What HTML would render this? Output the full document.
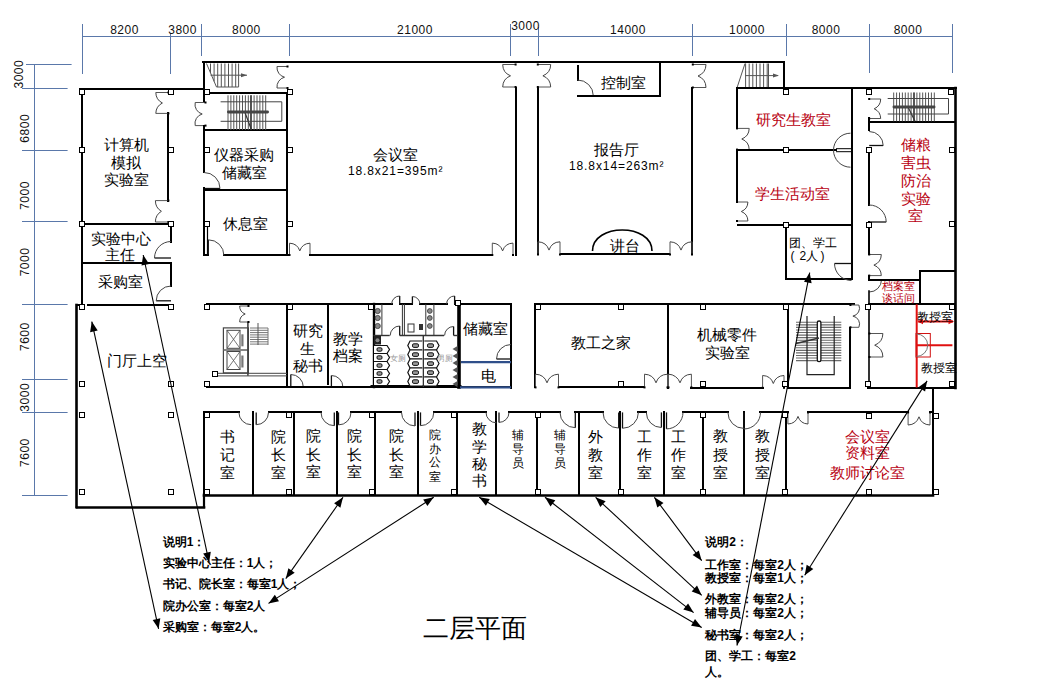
<!DOCTYPE html>
<html><head><meta charset="utf-8"><title>二层平面</title>
<style>
html,body{margin:0;padding:0;background:#fff;}
body{width:1053px;height:694px;overflow:hidden;font-family:"Liberation Sans", sans-serif;}
svg{display:block;}
</style></head>
<body>
<svg width="1053" height="694" viewBox="0 0 1053 694">
<rect width="1053" height="694" fill="#fff"/>
<line x1="82.5" y1="36.5" x2="952.5" y2="36.5" stroke="#5a78aa" stroke-width="1"/>
<line x1="82.5" y1="24" x2="82.5" y2="74" stroke="#5a78aa" stroke-width="1"/>
<line x1="170.5" y1="34" x2="170.5" y2="74" stroke="#5a78aa" stroke-width="1"/>
<line x1="201.5" y1="24" x2="201.5" y2="56" stroke="#5a78aa" stroke-width="1"/>
<line x1="289.5" y1="24" x2="289.5" y2="56" stroke="#5a78aa" stroke-width="1"/>
<line x1="510.5" y1="24" x2="510.5" y2="56" stroke="#5a78aa" stroke-width="1"/>
<line x1="538.5" y1="27" x2="538.5" y2="56" stroke="#5a78aa" stroke-width="1"/>
<line x1="692.5" y1="24" x2="692.5" y2="56" stroke="#5a78aa" stroke-width="1"/>
<line x1="786.5" y1="24" x2="786.5" y2="56" stroke="#5a78aa" stroke-width="1"/>
<line x1="869.5" y1="24" x2="869.5" y2="73" stroke="#5a78aa" stroke-width="1"/>
<line x1="952.5" y1="24" x2="952.5" y2="73" stroke="#5a78aa" stroke-width="1"/>
<text x="124.5" y="29.6" font-size="12" fill="#111" text-anchor="middle" dominant-baseline="central" font-weight="normal" font-family='"Liberation Sans", sans-serif' letter-spacing="0.5">8200</text>
<text x="182.6" y="29.6" font-size="12" fill="#111" text-anchor="middle" dominant-baseline="central" font-weight="normal" font-family='"Liberation Sans", sans-serif' letter-spacing="0.5">3800</text>
<text x="246.4" y="29.6" font-size="12" fill="#111" text-anchor="middle" dominant-baseline="central" font-weight="normal" font-family='"Liberation Sans", sans-serif' letter-spacing="0.5">8000</text>
<text x="415" y="29.6" font-size="12" fill="#111" text-anchor="middle" dominant-baseline="central" font-weight="normal" font-family='"Liberation Sans", sans-serif' letter-spacing="0.5">21000</text>
<text x="525.5" y="25.6" font-size="12" fill="#111" text-anchor="middle" dominant-baseline="central" font-weight="normal" font-family='"Liberation Sans", sans-serif' letter-spacing="0.5">3000</text>
<text x="628" y="29.6" font-size="12" fill="#111" text-anchor="middle" dominant-baseline="central" font-weight="normal" font-family='"Liberation Sans", sans-serif' letter-spacing="0.5">14000</text>
<text x="747" y="29.6" font-size="12" fill="#111" text-anchor="middle" dominant-baseline="central" font-weight="normal" font-family='"Liberation Sans", sans-serif' letter-spacing="0.5">10000</text>
<text x="826" y="29.6" font-size="12" fill="#111" text-anchor="middle" dominant-baseline="central" font-weight="normal" font-family='"Liberation Sans", sans-serif' letter-spacing="0.5">8000</text>
<text x="908" y="29.6" font-size="12" fill="#111" text-anchor="middle" dominant-baseline="central" font-weight="normal" font-family='"Liberation Sans", sans-serif' letter-spacing="0.5">8000</text>
<line x1="34.5" y1="64.5" x2="34.5" y2="495" stroke="#5a78aa" stroke-width="1"/>
<line x1="26" y1="64.5" x2="71.6" y2="64.5" stroke="#5a78aa" stroke-width="1"/>
<line x1="22" y1="88.5" x2="67.6" y2="88.5" stroke="#5a78aa" stroke-width="1"/>
<line x1="22" y1="150.5" x2="67.6" y2="150.5" stroke="#5a78aa" stroke-width="1"/>
<line x1="22" y1="221.5" x2="67.6" y2="221.5" stroke="#5a78aa" stroke-width="1"/>
<line x1="22" y1="304.5" x2="67.6" y2="304.5" stroke="#5a78aa" stroke-width="1"/>
<line x1="22" y1="379.5" x2="67.6" y2="379.5" stroke="#5a78aa" stroke-width="1"/>
<line x1="22" y1="412.5" x2="67.6" y2="412.5" stroke="#5a78aa" stroke-width="1"/>
<line x1="22" y1="495.5" x2="67.6" y2="495.5" stroke="#5a78aa" stroke-width="1"/>
<text x="0" y="0" font-size="12" fill="#111" text-anchor="middle" dominant-baseline="central" letter-spacing="0.5" font-family='"Liberation Sans", sans-serif' transform="translate(19.4,74.2) rotate(-90)">3000</text>
<text x="0" y="0" font-size="12" fill="#111" text-anchor="middle" dominant-baseline="central" letter-spacing="0.5" font-family='"Liberation Sans", sans-serif' transform="translate(25,128.3) rotate(-90)">6800</text>
<text x="0" y="0" font-size="12" fill="#111" text-anchor="middle" dominant-baseline="central" letter-spacing="0.5" font-family='"Liberation Sans", sans-serif' transform="translate(25,195.5) rotate(-90)">7000</text>
<text x="0" y="0" font-size="12" fill="#111" text-anchor="middle" dominant-baseline="central" letter-spacing="0.5" font-family='"Liberation Sans", sans-serif' transform="translate(25,262) rotate(-90)">7000</text>
<text x="0" y="0" font-size="12" fill="#111" text-anchor="middle" dominant-baseline="central" letter-spacing="0.5" font-family='"Liberation Sans", sans-serif' transform="translate(24.8,336.7) rotate(-90)">7600</text>
<text x="0" y="0" font-size="12" fill="#111" text-anchor="middle" dominant-baseline="central" letter-spacing="0.5" font-family='"Liberation Sans", sans-serif' transform="translate(24.8,397.3) rotate(-90)">3000</text>
<text x="0" y="0" font-size="12" fill="#111" text-anchor="middle" dominant-baseline="central" letter-spacing="0.5" font-family='"Liberation Sans", sans-serif' transform="translate(24.8,452.6) rotate(-90)">7600</text>
<line x1="80" y1="89" x2="204" y2="89" stroke="#000" stroke-width="2" stroke-linecap="square"/>
<line x1="82" y1="89" x2="82" y2="305" stroke="#000" stroke-width="2" stroke-linecap="square"/>
<line x1="168" y1="113" x2="168" y2="201" stroke="#000" stroke-width="2" stroke-linecap="square"/>
<line x1="168.4" y1="92.5" x2="155.8" y2="92.5" stroke="#555" stroke-width="1"/>
<path d="M155.8,92.5 A12,12 0 0 0 162.4,103" fill="none" stroke="#444" stroke-width="1"/>
<rect x="167.4" y="91.5" width="2" height="2" fill="#000"/>
<line x1="168.4" y1="113.4" x2="155.8" y2="113.4" stroke="#555" stroke-width="1"/>
<path d="M155.8,113.4 A12,12 0 0 1 162.4,103" fill="none" stroke="#444" stroke-width="1"/>
<rect x="167.4" y="112.4" width="2" height="2" fill="#000"/>
<line x1="168.4" y1="200.6" x2="155.4" y2="200.6" stroke="#555" stroke-width="1"/>
<path d="M155.4,200.6 A12.3,12.3 0 0 0 161.4,211.3" fill="none" stroke="#444" stroke-width="1"/>
<rect x="167.4" y="199.6" width="2" height="2" fill="#000"/>
<line x1="168.4" y1="222" x2="155.4" y2="222" stroke="#555" stroke-width="1"/>
<path d="M155.4,222 A12.3,12.3 0 0 1 161.4,211.3" fill="none" stroke="#444" stroke-width="1"/>
<rect x="167.4" y="221" width="2" height="2" fill="#000"/>
<line x1="82" y1="224" x2="171" y2="224" stroke="#000" stroke-width="2" stroke-linecap="square"/>
<line x1="171" y1="224" x2="171" y2="242" stroke="#000" stroke-width="2" stroke-linecap="square"/>
<line x1="171" y1="258" x2="154.5" y2="258" stroke="#111" stroke-width="1.3"/>
<path d="M154.5,258 A16.5,16.5 0 0 1 171,241.5" fill="none" stroke="#444" stroke-width="1"/>
<line x1="82" y1="263" x2="171" y2="263" stroke="#000" stroke-width="2" stroke-linecap="square"/>
<line x1="171" y1="263" x2="171" y2="286" stroke="#000" stroke-width="2" stroke-linecap="square"/>
<line x1="171" y1="300.8" x2="156.2" y2="300.8" stroke="#111" stroke-width="1.3"/>
<path d="M156.2,300.8 A14.8,14.8 0 0 1 171,286" fill="none" stroke="#444" stroke-width="1"/>
<line x1="88" y1="305" x2="173" y2="305" stroke="#000" stroke-width="2" stroke-linecap="square"/>
<line x1="76.5" y1="305" x2="76.5" y2="507" stroke="#000" stroke-width="2.6" stroke-linecap="square"/>
<line x1="77" y1="305" x2="82" y2="305" stroke="#000" stroke-width="2" stroke-linecap="square"/>
<line x1="77" y1="507.5" x2="204" y2="507.5" stroke="#000" stroke-width="2.6" stroke-linecap="square"/>
<line x1="204" y1="494" x2="204" y2="507" stroke="#000" stroke-width="2.2" stroke-linecap="square"/>
<line x1="203" y1="62" x2="784" y2="62" stroke="#000" stroke-width="2" stroke-linecap="square"/>
<line x1="204" y1="62" x2="204" y2="102" stroke="#000" stroke-width="2" stroke-linecap="square"/>
<line x1="205.5" y1="102.5" x2="195.2" y2="102.5" stroke="#555" stroke-width="1"/>
<path d="M195.2,102.5 A9.8,9.8 0 0 0 202.2,114" fill="none" stroke="#444" stroke-width="1"/>
<rect x="204.5" y="101.5" width="2" height="2" fill="#000"/>
<line x1="205.5" y1="125.6" x2="195.2" y2="125.6" stroke="#555" stroke-width="1"/>
<path d="M195.2,125.6 A9.8,9.8 0 0 1 202.2,114" fill="none" stroke="#444" stroke-width="1"/>
<rect x="204.5" y="124.6" width="2" height="2" fill="#000"/>
<line x1="204" y1="126" x2="204" y2="172" stroke="#000" stroke-width="2" stroke-linecap="square"/>
<line x1="204" y1="188.5" x2="220" y2="188.5" stroke="#111" stroke-width="1.3"/>
<path d="M220,188.5 A16,16 0 0 0 204,172.5" fill="none" stroke="#444" stroke-width="1"/>
<line x1="204" y1="188" x2="204" y2="255" stroke="#000" stroke-width="2" stroke-linecap="square"/>
<line x1="207.5" y1="224" x2="207.5" y2="255" stroke="#000" stroke-width="1.2" stroke-linecap="square"/>
<line x1="204" y1="93" x2="290" y2="93" stroke="#000" stroke-width="2" stroke-linecap="square"/>
<line x1="204" y1="130" x2="287" y2="130" stroke="#000" stroke-width="2" stroke-linecap="square"/>
<line x1="287" y1="93" x2="287" y2="255" stroke="#000" stroke-width="2" stroke-linecap="square"/>
<line x1="287.5" y1="66.5" x2="277" y2="66.5" stroke="#555" stroke-width="1"/>
<path d="M277,66.5 A10,10 0 0 0 284.5,77.2" fill="none" stroke="#444" stroke-width="1"/>
<rect x="286.5" y="65.5" width="2" height="2" fill="#000"/>
<line x1="287.5" y1="88" x2="277" y2="88" stroke="#555" stroke-width="1"/>
<path d="M277,88 A10,10 0 0 1 284.5,77.2" fill="none" stroke="#444" stroke-width="1"/>
<rect x="286.5" y="87" width="2" height="2" fill="#000"/>
<line x1="204" y1="190" x2="287" y2="190" stroke="#000" stroke-width="2" stroke-linecap="square"/>
<line x1="224" y1="255" x2="288" y2="255" stroke="#000" stroke-width="2" stroke-linecap="square"/>
<line x1="208.3" y1="255.4" x2="208.3" y2="239.8" stroke="#111" stroke-width="1.3"/>
<path d="M208.3,239.8 A15.6,15.6 0 0 1 223.9,255.4" fill="none" stroke="#444" stroke-width="1"/>
<line x1="204" y1="255" x2="208" y2="255" stroke="#000" stroke-width="2" stroke-linecap="square"/>
<polyline points="206.5,63.5 216.5,87 238.6,87 238.6,63.5" fill="none" stroke="#555" stroke-width="1"/>
<line x1="210.5" y1="63.5" x2="210.5" y2="72.9" stroke="#555" stroke-width="1"/>
<line x1="214.1" y1="63.5" x2="214.1" y2="81.4" stroke="#555" stroke-width="1"/>
<line x1="217.7" y1="63.5" x2="217.7" y2="87" stroke="#555" stroke-width="1"/>
<line x1="221.3" y1="63.5" x2="221.3" y2="87" stroke="#555" stroke-width="1"/>
<line x1="224.9" y1="63.5" x2="224.9" y2="87" stroke="#555" stroke-width="1"/>
<line x1="228.5" y1="63.5" x2="228.5" y2="87" stroke="#555" stroke-width="1"/>
<line x1="232.1" y1="63.5" x2="232.1" y2="87" stroke="#555" stroke-width="1"/>
<line x1="235.7" y1="63.5" x2="235.7" y2="87" stroke="#555" stroke-width="1"/>
<line x1="210.5" y1="75.2" x2="247" y2="75.2" stroke="#555" stroke-width="1"/>
<polygon points="247,75.2 241,73.2 241,77.2" fill="#555"/>
<line x1="228" y1="95.3" x2="228" y2="130" stroke="#555" stroke-width="1"/>
<line x1="230.9" y1="95.3" x2="230.9" y2="130" stroke="#555" stroke-width="1"/>
<line x1="233.8" y1="95.3" x2="233.8" y2="130" stroke="#555" stroke-width="1"/>
<line x1="236.7" y1="95.3" x2="236.7" y2="130" stroke="#555" stroke-width="1"/>
<line x1="239.6" y1="95.3" x2="239.6" y2="130" stroke="#555" stroke-width="1"/>
<line x1="242.5" y1="95.3" x2="242.5" y2="130" stroke="#555" stroke-width="1"/>
<line x1="245.4" y1="95.3" x2="245.4" y2="130" stroke="#555" stroke-width="1"/>
<line x1="248.3" y1="95.3" x2="248.3" y2="130" stroke="#555" stroke-width="1"/>
<line x1="251.2" y1="95.3" x2="251.2" y2="130" stroke="#555" stroke-width="1"/>
<line x1="254.1" y1="95.3" x2="254.1" y2="130" stroke="#555" stroke-width="1"/>
<line x1="257" y1="95.3" x2="257" y2="130" stroke="#555" stroke-width="1"/>
<line x1="259.9" y1="95.3" x2="259.9" y2="130" stroke="#555" stroke-width="1"/>
<line x1="262.8" y1="95.3" x2="262.8" y2="130" stroke="#555" stroke-width="1"/>
<line x1="265.7" y1="95.3" x2="265.7" y2="130" stroke="#555" stroke-width="1"/>
<line x1="250.9" y1="95.3" x2="250.9" y2="130" stroke="#333" stroke-width="1.4"/>
<line x1="245" y1="112.5" x2="251.5" y2="130" stroke="#333" stroke-width="1.2"/>
<polyline points="220.6,101.8 281.8,101.8 281.8,121.3 220.6,121.3" fill="none" stroke="#444" stroke-width="1"/>
<rect x="227" y="110.6" width="42" height="2.8" rx="1.4" fill="#444"/>
<line x1="310" y1="255" x2="492" y2="255" stroke="#000" stroke-width="2" stroke-linecap="square"/>
<line x1="289.5" y1="255" x2="289.5" y2="243.2" stroke="#555" stroke-width="1"/>
<path d="M289.5,243.2 A11.2,11.2 0 0 1 299.8,250.9" fill="none" stroke="#444" stroke-width="1"/>
<rect x="288.5" y="254" width="2" height="2" fill="#000"/>
<line x1="310" y1="255" x2="310" y2="243.2" stroke="#555" stroke-width="1"/>
<path d="M310,243.2 A11.2,11.2 0 0 0 299.8,250.9" fill="none" stroke="#444" stroke-width="1"/>
<rect x="309" y="254" width="2" height="2" fill="#000"/>
<line x1="492.3" y1="255" x2="492.3" y2="243.1" stroke="#555" stroke-width="1"/>
<path d="M492.3,243.1 A11.3,11.3 0 0 1 502.6,250.9" fill="none" stroke="#444" stroke-width="1"/>
<rect x="491.3" y="254" width="2" height="2" fill="#000"/>
<line x1="513" y1="255" x2="513" y2="243.1" stroke="#555" stroke-width="1"/>
<path d="M513,243.1 A11.3,11.3 0 0 0 502.6,250.9" fill="none" stroke="#444" stroke-width="1"/>
<rect x="512" y="254" width="2" height="2" fill="#000"/>
<line x1="516" y1="88" x2="516" y2="255" stroke="#000" stroke-width="2" stroke-linecap="square"/>
<line x1="515.6" y1="64.5" x2="502.7" y2="64.5" stroke="#555" stroke-width="1"/>
<path d="M502.7,64.5 A12.3,12.3 0 0 0 510.5,75.8" fill="none" stroke="#444" stroke-width="1"/>
<rect x="514.6" y="63.5" width="2" height="2" fill="#000"/>
<line x1="515.6" y1="87" x2="502.7" y2="87" stroke="#555" stroke-width="1"/>
<path d="M502.7,87 A12.3,12.3 0 0 1 510.5,75.8" fill="none" stroke="#444" stroke-width="1"/>
<rect x="514.6" y="86" width="2" height="2" fill="#000"/>
<line x1="538" y1="88" x2="538" y2="254" stroke="#000" stroke-width="2" stroke-linecap="square"/>
<line x1="537.8" y1="64.5" x2="550.7" y2="64.5" stroke="#555" stroke-width="1"/>
<path d="M550.7,64.5 A12.3,12.3 0 0 1 542.9,75.8" fill="none" stroke="#444" stroke-width="1"/>
<rect x="536.8" y="63.5" width="2" height="2" fill="#000"/>
<line x1="537.8" y1="87" x2="550.7" y2="87" stroke="#555" stroke-width="1"/>
<path d="M550.7,87 A12.3,12.3 0 0 0 542.9,75.8" fill="none" stroke="#444" stroke-width="1"/>
<rect x="536.8" y="86" width="2" height="2" fill="#000"/>
<line x1="692" y1="88" x2="692" y2="254" stroke="#000" stroke-width="2" stroke-linecap="square"/>
<line x1="692.8" y1="64.5" x2="706" y2="64.5" stroke="#555" stroke-width="1"/>
<path d="M706,64.5 A12.6,12.6 0 0 1 698,76" fill="none" stroke="#444" stroke-width="1"/>
<rect x="691.8" y="63.5" width="2" height="2" fill="#000"/>
<line x1="692.8" y1="87.5" x2="706" y2="87.5" stroke="#555" stroke-width="1"/>
<path d="M706,87.5 A12.6,12.6 0 0 0 698,76" fill="none" stroke="#444" stroke-width="1"/>
<rect x="691.8" y="86.5" width="2" height="2" fill="#000"/>
<line x1="561" y1="254" x2="669" y2="254" stroke="#000" stroke-width="2" stroke-linecap="square"/>
<line x1="538" y1="254.5" x2="538" y2="241.8" stroke="#555" stroke-width="1"/>
<path d="M538,241.8 A12,12 0 0 1 549,250.1" fill="none" stroke="#444" stroke-width="1"/>
<rect x="537" y="253.5" width="2" height="2" fill="#000"/>
<line x1="560" y1="254.5" x2="560" y2="241.8" stroke="#555" stroke-width="1"/>
<path d="M560,241.8 A12,12 0 0 0 549,250.1" fill="none" stroke="#444" stroke-width="1"/>
<rect x="559" y="253.5" width="2" height="2" fill="#000"/>
<line x1="670" y1="254.5" x2="670" y2="241.8" stroke="#555" stroke-width="1"/>
<path d="M670,241.8 A12,12 0 0 1 681,250.1" fill="none" stroke="#444" stroke-width="1"/>
<rect x="669" y="253.5" width="2" height="2" fill="#000"/>
<line x1="692" y1="254.5" x2="692" y2="241.8" stroke="#555" stroke-width="1"/>
<path d="M692,241.8 A12,12 0 0 0 681,250.1" fill="none" stroke="#444" stroke-width="1"/>
<rect x="691" y="253.5" width="2" height="2" fill="#000"/>
<path d="M592.5,251 C592.5,223 652,223 652,251" fill="none" stroke="#000" stroke-width="1.6"/>
<line x1="578" y1="66" x2="578" y2="80" stroke="#000" stroke-width="2" stroke-linecap="square"/>
<path d="M577.5,80 A15.8,15.8 0 0 1 593.3,95.8" fill="none" stroke="#444" stroke-width="1"/>
<line x1="578" y1="96" x2="660" y2="96" stroke="#000" stroke-width="2" stroke-linecap="square"/>
<line x1="660" y1="64" x2="660" y2="96" stroke="#000" stroke-width="2" stroke-linecap="square"/>
<line x1="784" y1="62" x2="784" y2="88" stroke="#000" stroke-width="2" stroke-linecap="square"/>
<polyline points="745,63.5 737,87.8" fill="none" stroke="#555" stroke-width="1"/>
<line x1="745.6" y1="63.5" x2="745.6" y2="87.8" stroke="#555" stroke-width="1"/>
<line x1="749.2" y1="63.5" x2="749.2" y2="87.8" stroke="#555" stroke-width="1"/>
<line x1="752.8" y1="63.5" x2="752.8" y2="87.8" stroke="#555" stroke-width="1"/>
<line x1="756.4" y1="63.5" x2="756.4" y2="87.8" stroke="#555" stroke-width="1"/>
<line x1="760" y1="63.5" x2="760" y2="87.8" stroke="#555" stroke-width="1"/>
<line x1="763.6" y1="63.5" x2="763.6" y2="87.8" stroke="#555" stroke-width="1"/>
<line x1="767.2" y1="63.5" x2="767.2" y2="87.8" stroke="#555" stroke-width="1"/>
<line x1="768.5" y1="63.5" x2="768.5" y2="87.8" stroke="#555" stroke-width="1"/>
<line x1="745" y1="75.6" x2="778" y2="75.6" stroke="#555" stroke-width="1"/>
<polygon points="779,75.6 773,73.6 773,77.6" fill="#555"/>
<line x1="737" y1="88" x2="956" y2="88" stroke="#000" stroke-width="2" stroke-linecap="square"/>
<line x1="737" y1="88" x2="737" y2="128" stroke="#000" stroke-width="2" stroke-linecap="square"/>
<line x1="737" y1="128.4" x2="749.2" y2="128.4" stroke="#555" stroke-width="1"/>
<path d="M749.2,128.4 A11.6,11.6 0 0 1 741.8,139" fill="none" stroke="#444" stroke-width="1"/>
<rect x="736" y="127.4" width="2" height="2" fill="#000"/>
<line x1="737" y1="149.6" x2="749.2" y2="149.6" stroke="#555" stroke-width="1"/>
<path d="M749.2,149.6 A11.6,11.6 0 0 0 741.8,139" fill="none" stroke="#444" stroke-width="1"/>
<rect x="736" y="148.6" width="2" height="2" fill="#000"/>
<line x1="737" y1="150" x2="737" y2="202" stroke="#000" stroke-width="2" stroke-linecap="square"/>
<line x1="737" y1="202" x2="747.9" y2="202" stroke="#555" stroke-width="1"/>
<path d="M747.9,202 A10.4,10.4 0 0 1 741.3,211.5" fill="none" stroke="#444" stroke-width="1"/>
<rect x="736" y="201" width="2" height="2" fill="#000"/>
<line x1="737" y1="221" x2="747.9" y2="221" stroke="#555" stroke-width="1"/>
<path d="M747.9,221 A10.4,10.4 0 0 0 741.3,211.5" fill="none" stroke="#444" stroke-width="1"/>
<rect x="736" y="220" width="2" height="2" fill="#000"/>
<line x1="737" y1="150" x2="836" y2="150" stroke="#000" stroke-width="2" stroke-linecap="square"/>
<line x1="836" y1="148.7" x2="852" y2="148.7" stroke="#000" stroke-width="1"/>
<line x1="836" y1="151.7" x2="852" y2="151.7" stroke="#000" stroke-width="1"/>
<path d="M833.5,150.2 A17,17 0 0 1 850.5,133.2" fill="none" stroke="#444" stroke-width="1"/>
<path d="M833.5,150.2 A17,17 0 0 0 850.5,167.2" fill="none" stroke="#444" stroke-width="1"/>
<line x1="738" y1="225" x2="852" y2="225" stroke="#000" stroke-width="2" stroke-linecap="square"/>
<line x1="852" y1="88" x2="852" y2="279" stroke="#000" stroke-width="2" stroke-linecap="square"/>
<line x1="786" y1="225" x2="786" y2="279" stroke="#000" stroke-width="2" stroke-linecap="square"/>
<line x1="786" y1="279" x2="852" y2="279" stroke="#000" stroke-width="2" stroke-linecap="square"/>
<line x1="851.5" y1="263.5" x2="834.5" y2="263.5" stroke="#111" stroke-width="1.3"/>
<path d="M834.5,263.5 A17,17 0 0 0 851.5,280.5" fill="none" stroke="#444" stroke-width="1"/>
<line x1="955.5" y1="88" x2="955.5" y2="388" stroke="#000" stroke-width="2.6" stroke-linecap="square"/>
<line x1="869" y1="122" x2="955" y2="122" stroke="#000" stroke-width="2" stroke-linecap="square"/>
<line x1="869.2" y1="99" x2="880.7" y2="99" stroke="#555" stroke-width="1"/>
<path d="M880.7,99 A10.9,10.9 0 0 1 874.2,108.8" fill="none" stroke="#444" stroke-width="1"/>
<rect x="868.2" y="98" width="2" height="2" fill="#000"/>
<line x1="869.2" y1="118.5" x2="880.7" y2="118.5" stroke="#555" stroke-width="1"/>
<path d="M880.7,118.5 A10.9,10.9 0 0 0 874.2,108.8" fill="none" stroke="#444" stroke-width="1"/>
<rect x="868.2" y="117.5" width="2" height="2" fill="#000"/>
<line x1="869" y1="118" x2="869" y2="130" stroke="#000" stroke-width="2" stroke-linecap="square"/>
<line x1="869.2" y1="145.5" x2="883.2" y2="145.5" stroke="#111" stroke-width="1.3"/>
<path d="M883.2,145.5 A14,14 0 0 0 869.2,131.5" fill="none" stroke="#444" stroke-width="1"/>
<line x1="869" y1="148" x2="869" y2="205" stroke="#000" stroke-width="2" stroke-linecap="square"/>
<line x1="869.2" y1="222" x2="886.2" y2="222" stroke="#111" stroke-width="1.3"/>
<path d="M886.2,222 A17,17 0 0 0 869.2,205" fill="none" stroke="#444" stroke-width="1"/>
<line x1="869" y1="222" x2="869" y2="254" stroke="#000" stroke-width="2" stroke-linecap="square"/>
<line x1="869.2" y1="254.5" x2="881.3" y2="254.5" stroke="#555" stroke-width="1"/>
<path d="M881.3,254.5 A11.5,11.5 0 0 1 873.9,265.1" fill="none" stroke="#444" stroke-width="1"/>
<rect x="868.2" y="253.5" width="2" height="2" fill="#000"/>
<line x1="869.2" y1="275.6" x2="881.3" y2="275.6" stroke="#555" stroke-width="1"/>
<path d="M881.3,275.6 A11.5,11.5 0 0 0 873.9,265.1" fill="none" stroke="#444" stroke-width="1"/>
<rect x="868.2" y="274.6" width="2" height="2" fill="#000"/>
<line x1="869" y1="276" x2="869" y2="280" stroke="#000" stroke-width="2" stroke-linecap="square"/>
<path d="M881.5,279.7 A12.3,12.3 0 0 1 869.2,292" fill="none" stroke="#444" stroke-width="1"/>
<line x1="869" y1="291" x2="869" y2="388" stroke="#000" stroke-width="1.6" stroke-linecap="square"/>
<line x1="869.4" y1="333.5" x2="882.9" y2="333.5" stroke="#555" stroke-width="1"/>
<path d="M882.9,333.5 A12.8,12.8 0 0 1 874.7,345.2" fill="none" stroke="#444" stroke-width="1"/>
<rect x="868.4" y="332.5" width="2" height="2" fill="#000"/>
<line x1="869.4" y1="357" x2="882.9" y2="357" stroke="#555" stroke-width="1"/>
<path d="M882.9,357 A12.8,12.8 0 0 0 874.7,345.2" fill="none" stroke="#444" stroke-width="1"/>
<rect x="868.4" y="356" width="2" height="2" fill="#000"/>
<line x1="920" y1="271" x2="955" y2="271" stroke="#000" stroke-width="2" stroke-linecap="square"/>
<line x1="920" y1="271" x2="920" y2="304" stroke="#000" stroke-width="2" stroke-linecap="square"/>
<line x1="869" y1="280" x2="920" y2="280" stroke="#000" stroke-width="2" stroke-linecap="square"/>
<line x1="869" y1="304" x2="955" y2="304" stroke="#000" stroke-width="2" stroke-linecap="square"/>
<line x1="893.7" y1="92.5" x2="893.7" y2="121.3" stroke="#555" stroke-width="1"/>
<line x1="896.6" y1="92.5" x2="896.6" y2="121.3" stroke="#555" stroke-width="1"/>
<line x1="899.5" y1="92.5" x2="899.5" y2="121.3" stroke="#555" stroke-width="1"/>
<line x1="902.4" y1="92.5" x2="902.4" y2="121.3" stroke="#555" stroke-width="1"/>
<line x1="905.3" y1="92.5" x2="905.3" y2="121.3" stroke="#555" stroke-width="1"/>
<line x1="908.2" y1="92.5" x2="908.2" y2="121.3" stroke="#555" stroke-width="1"/>
<line x1="911.1" y1="92.5" x2="911.1" y2="121.3" stroke="#555" stroke-width="1"/>
<line x1="914" y1="92.5" x2="914" y2="121.3" stroke="#555" stroke-width="1"/>
<line x1="916.9" y1="92.5" x2="916.9" y2="121.3" stroke="#555" stroke-width="1"/>
<line x1="919.8" y1="92.5" x2="919.8" y2="121.3" stroke="#555" stroke-width="1"/>
<line x1="922.7" y1="92.5" x2="922.7" y2="121.3" stroke="#555" stroke-width="1"/>
<line x1="925.6" y1="92.5" x2="925.6" y2="121.3" stroke="#555" stroke-width="1"/>
<line x1="928.5" y1="92.5" x2="928.5" y2="121.3" stroke="#555" stroke-width="1"/>
<line x1="931.4" y1="92.5" x2="931.4" y2="121.3" stroke="#555" stroke-width="1"/>
<line x1="934.3" y1="92.5" x2="934.3" y2="121.3" stroke="#555" stroke-width="1"/>
<line x1="914" y1="92.5" x2="914" y2="121.3" stroke="#333" stroke-width="1.4"/>
<line x1="908" y1="107" x2="915" y2="121.3" stroke="#333" stroke-width="1.2"/>
<polyline points="887.7,98.5 948.5,98.5 948.5,114 887.7,114" fill="none" stroke="#444" stroke-width="1"/>
<rect x="892.5" y="105.6" width="43" height="2.8" rx="1.4" fill="#444"/>
<line x1="207" y1="304" x2="392" y2="304" stroke="#000" stroke-width="2" stroke-linecap="square"/>
<line x1="400" y1="304" x2="412" y2="304" stroke="#000" stroke-width="2" stroke-linecap="square"/>
<line x1="420" y1="304" x2="447" y2="304" stroke="#000" stroke-width="2" stroke-linecap="square"/>
<line x1="455" y1="304" x2="511" y2="304" stroke="#000" stroke-width="2" stroke-linecap="square"/>
<line x1="399.7" y1="304" x2="399.7" y2="296" stroke="#111" stroke-width="1.3"/>
<path d="M399.7,296 A8,8 0 0 0 391.7,304" fill="none" stroke="#444" stroke-width="1"/>
<line x1="412.4" y1="304" x2="412.4" y2="296.5" stroke="#111" stroke-width="1.3"/>
<path d="M412.4,296.5 A7.5,7.5 0 0 1 419.9,304" fill="none" stroke="#444" stroke-width="1"/>
<line x1="454.6" y1="304" x2="454.6" y2="296" stroke="#111" stroke-width="1.3"/>
<path d="M454.6,296 A8,8 0 0 0 446.6,304" fill="none" stroke="#444" stroke-width="1"/>
<line x1="287" y1="304" x2="287" y2="387" stroke="#000" stroke-width="2" stroke-linecap="square"/>
<line x1="328" y1="304" x2="328" y2="384" stroke="#000" stroke-width="2" stroke-linecap="square"/>
<line x1="290.8" y1="387" x2="290.8" y2="374.5" stroke="#111" stroke-width="1.3"/>
<path d="M290.8,374.5 A12.5,12.5 0 0 1 303.3,387" fill="none" stroke="#444" stroke-width="1"/>
<line x1="331.4" y1="387" x2="331.4" y2="375.5" stroke="#111" stroke-width="1.3"/>
<path d="M331.4,375.5 A11.5,11.5 0 0 1 342.9,387" fill="none" stroke="#444" stroke-width="1"/>
<line x1="207" y1="387" x2="511" y2="387" stroke="#000" stroke-width="2" stroke-linecap="square"/>
<line x1="374" y1="304" x2="374" y2="387" stroke="#000" stroke-width="2.4" stroke-linecap="square"/>
<line x1="459" y1="304" x2="459" y2="387" stroke="#000" stroke-width="3.6" stroke-linecap="square"/>
<line x1="372" y1="386.5" x2="460" y2="386.5" stroke="#000" stroke-width="3" stroke-linecap="square"/>
<line x1="511" y1="304" x2="511" y2="388" stroke="#000" stroke-width="2" stroke-linecap="square"/>
<line x1="511" y1="359" x2="496.5" y2="359" stroke="#111" stroke-width="1.3"/>
<path d="M496.5,359 A14.5,14.5 0 0 1 511,344.5" fill="none" stroke="#444" stroke-width="1"/>
<line x1="461" y1="362.2" x2="511" y2="362.2" stroke="#2f4f8a" stroke-width="2.2"/>
<line x1="460" y1="387.3" x2="511" y2="387.3" stroke="#2f4f8a" stroke-width="2.2"/>
<line x1="535" y1="304" x2="854" y2="304" stroke="#000" stroke-width="2" stroke-linecap="square"/>
<line x1="535" y1="304" x2="535" y2="387" stroke="#000" stroke-width="2" stroke-linecap="square"/>
<line x1="668" y1="304" x2="668" y2="388" stroke="#000" stroke-width="2" stroke-linecap="square"/>
<line x1="788" y1="304" x2="788" y2="388" stroke="#000" stroke-width="2" stroke-linecap="square"/>
<line x1="850" y1="328" x2="850" y2="388" stroke="#000" stroke-width="2" stroke-linecap="square"/>
<line x1="850.4" y1="305" x2="858.9" y2="305" stroke="#555" stroke-width="1"/>
<path d="M858.9,305 A8.1,8.1 0 0 1 852.9,316.1" fill="none" stroke="#444" stroke-width="1"/>
<rect x="849.4" y="304" width="2" height="2" fill="#000"/>
<line x1="850.4" y1="327.3" x2="858.9" y2="327.3" stroke="#555" stroke-width="1"/>
<path d="M858.9,327.3 A8.1,8.1 0 0 0 852.9,316.1" fill="none" stroke="#444" stroke-width="1"/>
<rect x="849.4" y="326.3" width="2" height="2" fill="#000"/>
<line x1="559" y1="387" x2="644" y2="387" stroke="#000" stroke-width="2" stroke-linecap="square"/>
<line x1="535.5" y1="387.4" x2="535.5" y2="374.2" stroke="#555" stroke-width="1"/>
<path d="M535.5,374.2 A12.6,12.6 0 0 1 547,382.8" fill="none" stroke="#444" stroke-width="1"/>
<rect x="534.5" y="386.4" width="2" height="2" fill="#000"/>
<line x1="558.5" y1="387.4" x2="558.5" y2="374.2" stroke="#555" stroke-width="1"/>
<path d="M558.5,374.2 A12.6,12.6 0 0 0 547,382.8" fill="none" stroke="#444" stroke-width="1"/>
<rect x="557.5" y="386.4" width="2" height="2" fill="#000"/>
<line x1="644.5" y1="387.4" x2="644.5" y2="374.2" stroke="#555" stroke-width="1"/>
<path d="M644.5,374.2 A12.6,12.6 0 0 1 656,382.8" fill="none" stroke="#444" stroke-width="1"/>
<rect x="643.5" y="386.4" width="2" height="2" fill="#000"/>
<line x1="667.5" y1="387.4" x2="667.5" y2="374.2" stroke="#555" stroke-width="1"/>
<path d="M667.5,374.2 A12.6,12.6 0 0 0 656,382.8" fill="none" stroke="#444" stroke-width="1"/>
<rect x="666.5" y="386.4" width="2" height="2" fill="#000"/>
<line x1="668.5" y1="387.4" x2="668.5" y2="374.2" stroke="#555" stroke-width="1"/>
<path d="M668.5,374.2 A12.5,12.5 0 0 1 680,382.8" fill="none" stroke="#444" stroke-width="1"/>
<rect x="667.5" y="386.4" width="2" height="2" fill="#000"/>
<line x1="691.4" y1="387.4" x2="691.4" y2="374.2" stroke="#555" stroke-width="1"/>
<path d="M691.4,374.2 A12.5,12.5 0 0 0 680,382.8" fill="none" stroke="#444" stroke-width="1"/>
<rect x="690.4" y="386.4" width="2" height="2" fill="#000"/>
<line x1="691" y1="388" x2="763" y2="388" stroke="#000" stroke-width="2" stroke-linecap="square"/>
<line x1="762.6" y1="387.8" x2="762.6" y2="375.5" stroke="#555" stroke-width="1"/>
<path d="M762.6,375.5 A11.7,11.7 0 0 1 773.3,383.5" fill="none" stroke="#444" stroke-width="1"/>
<rect x="761.6" y="386.8" width="2" height="2" fill="#000"/>
<line x1="784" y1="387.8" x2="784" y2="375.5" stroke="#555" stroke-width="1"/>
<path d="M784,375.5 A11.7,11.7 0 0 0 773.3,383.5" fill="none" stroke="#444" stroke-width="1"/>
<rect x="783" y="386.8" width="2" height="2" fill="#000"/>
<line x1="788" y1="388" x2="850" y2="388" stroke="#000" stroke-width="2" stroke-linecap="square"/>
<line x1="868" y1="388" x2="955" y2="388" stroke="#000" stroke-width="2" stroke-linecap="square"/>
<line x1="796" y1="322.3" x2="841.3" y2="322.3" stroke="#6a6a6a" stroke-width="1.1"/>
<line x1="796" y1="324.9" x2="841.3" y2="324.9" stroke="#6a6a6a" stroke-width="1.1"/>
<line x1="796" y1="327.4" x2="841.3" y2="327.4" stroke="#6a6a6a" stroke-width="1.1"/>
<line x1="796" y1="330" x2="841.3" y2="330" stroke="#6a6a6a" stroke-width="1.1"/>
<line x1="796" y1="332.5" x2="841.3" y2="332.5" stroke="#6a6a6a" stroke-width="1.1"/>
<line x1="796" y1="335.1" x2="841.3" y2="335.1" stroke="#6a6a6a" stroke-width="1.1"/>
<line x1="796" y1="337.6" x2="841.3" y2="337.6" stroke="#6a6a6a" stroke-width="1.1"/>
<line x1="796" y1="340.2" x2="841.3" y2="340.2" stroke="#6a6a6a" stroke-width="1.1"/>
<line x1="796" y1="342.7" x2="841.3" y2="342.7" stroke="#6a6a6a" stroke-width="1.1"/>
<line x1="796" y1="345.3" x2="841.3" y2="345.3" stroke="#6a6a6a" stroke-width="1.1"/>
<line x1="796" y1="347.8" x2="841.3" y2="347.8" stroke="#6a6a6a" stroke-width="1.1"/>
<line x1="796" y1="350.4" x2="841.3" y2="350.4" stroke="#6a6a6a" stroke-width="1.1"/>
<line x1="796" y1="352.9" x2="841.3" y2="352.9" stroke="#6a6a6a" stroke-width="1.1"/>
<line x1="796" y1="355.5" x2="841.3" y2="355.5" stroke="#6a6a6a" stroke-width="1.1"/>
<line x1="796" y1="358" x2="841.3" y2="358" stroke="#6a6a6a" stroke-width="1.1"/>
<line x1="796" y1="360.6" x2="841.3" y2="360.6" stroke="#6a6a6a" stroke-width="1.1"/>
<polyline points="807,316 807,374.7 834.2,374.7 834.2,316" fill="none" stroke="#222" stroke-width="1.2"/>
<rect x="817.3" y="321" width="3.6" height="40.6" rx="1.7" fill="#fff" stroke="#111" stroke-width="1.3"/>
<line x1="796" y1="343.5" x2="819" y2="338" stroke="#333" stroke-width="1.3"/>
<line x1="916.7" y1="304.3" x2="916.7" y2="387.5" stroke="#e01010" stroke-width="2"/>
<line x1="918" y1="321.5" x2="953" y2="321.5" stroke="#e01010" stroke-width="1.8"/>
<polygon points="917.5,321.5 923,318.8 923,324.2" fill="#e01010"/>
<polygon points="954,321.5 948.5,318.8 948.5,324.2" fill="#e01010"/>
<rect x="916" y="333.5" width="14.3" height="23.5" fill="none" stroke="#d01010" stroke-width="1"/>
<line x1="916" y1="345.2" x2="952.4" y2="345.2" stroke="#e01010" stroke-width="2"/>
<path d="M916.5,334 A11.2,11.2 0 0 1 927.7,345.2" fill="none" stroke="#777" stroke-width="1"/>
<path d="M916.5,356.4 A11.2,11.2 0 0 0 927.7,345.2" fill="none" stroke="#777" stroke-width="1"/>
<line x1="204" y1="412" x2="239" y2="412" stroke="#000" stroke-width="2" stroke-linecap="square"/>
<line x1="269" y1="412" x2="321" y2="412" stroke="#000" stroke-width="2" stroke-linecap="square"/>
<line x1="351" y1="412" x2="401" y2="412" stroke="#000" stroke-width="2" stroke-linecap="square"/>
<line x1="434" y1="412" x2="486" y2="412" stroke="#000" stroke-width="2" stroke-linecap="square"/>
<line x1="509" y1="412" x2="560" y2="412" stroke="#000" stroke-width="2" stroke-linecap="square"/>
<line x1="575" y1="412" x2="603" y2="412" stroke="#000" stroke-width="2" stroke-linecap="square"/>
<line x1="638" y1="412" x2="646" y2="412" stroke="#000" stroke-width="2" stroke-linecap="square"/>
<line x1="683" y1="412" x2="728" y2="412" stroke="#000" stroke-width="2" stroke-linecap="square"/>
<line x1="760" y1="412" x2="788" y2="412" stroke="#000" stroke-width="2" stroke-linecap="square"/>
<line x1="808" y1="412" x2="908" y2="412" stroke="#000" stroke-width="2" stroke-linecap="square"/>
<line x1="930" y1="412" x2="933" y2="412" stroke="#000" stroke-width="2" stroke-linecap="square"/>
<line x1="204" y1="412" x2="204" y2="494" stroke="#000" stroke-width="2" stroke-linecap="square"/>
<line x1="253" y1="412" x2="253" y2="494" stroke="#000" stroke-width="2" stroke-linecap="square"/>
<line x1="294" y1="412" x2="294" y2="494" stroke="#000" stroke-width="2" stroke-linecap="square"/>
<line x1="337" y1="412" x2="337" y2="494" stroke="#000" stroke-width="2" stroke-linecap="square"/>
<line x1="375" y1="412" x2="375" y2="494" stroke="#000" stroke-width="2" stroke-linecap="square"/>
<line x1="418" y1="412" x2="418" y2="494" stroke="#000" stroke-width="2" stroke-linecap="square"/>
<line x1="457" y1="412" x2="457" y2="494" stroke="#000" stroke-width="2" stroke-linecap="square"/>
<line x1="496" y1="412" x2="496" y2="494" stroke="#000" stroke-width="2" stroke-linecap="square"/>
<line x1="537" y1="412" x2="537" y2="494" stroke="#000" stroke-width="2" stroke-linecap="square"/>
<line x1="579" y1="412" x2="579" y2="494" stroke="#000" stroke-width="2" stroke-linecap="square"/>
<line x1="620" y1="412" x2="620" y2="494" stroke="#000" stroke-width="2" stroke-linecap="square"/>
<line x1="664" y1="412" x2="664" y2="494" stroke="#000" stroke-width="2" stroke-linecap="square"/>
<line x1="703" y1="412" x2="703" y2="494" stroke="#000" stroke-width="2" stroke-linecap="square"/>
<line x1="744" y1="412" x2="744" y2="494" stroke="#000" stroke-width="2" stroke-linecap="square"/>
<line x1="786" y1="412" x2="786" y2="494" stroke="#000" stroke-width="2" stroke-linecap="square"/>
<line x1="933" y1="388" x2="933" y2="494" stroke="#000" stroke-width="2" stroke-linecap="square"/>
<line x1="204" y1="495.5" x2="933" y2="495.5" stroke="#000" stroke-width="2.6" stroke-linecap="square"/>
<path d="M251.2,424.7 A12.3,12.3 0 0 1 238.9,412.4" fill="none" stroke="#444" stroke-width="1"/>
<line x1="256.2" y1="412.4" x2="256.2" y2="424.7" stroke="#111" stroke-width="1.3"/>
<path d="M256.2,424.7 A12.3,12.3 0 0 0 268.5,412.4" fill="none" stroke="#444" stroke-width="1"/>
<line x1="334.3" y1="412.4" x2="334.3" y2="425.7" stroke="#111" stroke-width="1.3"/>
<path d="M334.3,425.7 A13.3,13.3 0 0 1 321,412.4" fill="none" stroke="#444" stroke-width="1"/>
<line x1="338.5" y1="412.4" x2="338.5" y2="424.9" stroke="#111" stroke-width="1.3"/>
<path d="M338.5,424.9 A12.5,12.5 0 0 0 351,412.4" fill="none" stroke="#444" stroke-width="1"/>
<line x1="415" y1="412.4" x2="415" y2="425.9" stroke="#111" stroke-width="1.3"/>
<path d="M415,425.9 A13.5,13.5 0 0 1 401.5,412.4" fill="none" stroke="#444" stroke-width="1"/>
<line x1="420.5" y1="412.4" x2="420.5" y2="425.7" stroke="#111" stroke-width="1.3"/>
<path d="M420.5,425.7 A13.3,13.3 0 0 0 433.8,412.4" fill="none" stroke="#444" stroke-width="1"/>
<path d="M496.4,422.8 A10.4,10.4 0 0 1 486,412.4" fill="none" stroke="#444" stroke-width="1"/>
<line x1="499" y1="412.4" x2="499" y2="422.4" stroke="#111" stroke-width="1.3"/>
<path d="M499,422.4 A10,10 0 0 0 509,412.4" fill="none" stroke="#444" stroke-width="1"/>
<line x1="575.3" y1="412.4" x2="575.3" y2="427.7" stroke="#111" stroke-width="1.3"/>
<path d="M575.3,427.7 A15.3,15.3 0 0 1 560,412.4" fill="none" stroke="#444" stroke-width="1"/>
<line x1="618.7" y1="412.4" x2="618.7" y2="428.1" stroke="#111" stroke-width="1.3"/>
<path d="M618.7,428.1 A15.7,15.7 0 0 1 603,412.4" fill="none" stroke="#444" stroke-width="1"/>
<line x1="622.5" y1="412.4" x2="622.5" y2="428.3" stroke="#111" stroke-width="1.3"/>
<path d="M622.5,428.3 A15.9,15.9 0 0 0 638.4,412.4" fill="none" stroke="#444" stroke-width="1"/>
<line x1="661.4" y1="412.4" x2="661.4" y2="427.5" stroke="#111" stroke-width="1.3"/>
<path d="M661.4,427.5 A15.1,15.1 0 0 1 646.3,412.4" fill="none" stroke="#444" stroke-width="1"/>
<line x1="666.5" y1="412.4" x2="666.5" y2="428.9" stroke="#111" stroke-width="1.3"/>
<path d="M666.5,428.9 A16.5,16.5 0 0 0 683,412.4" fill="none" stroke="#444" stroke-width="1"/>
<line x1="743.9" y1="412.4" x2="743.9" y2="428.4" stroke="#111" stroke-width="1.3"/>
<path d="M743.9,428.4 A16,16 0 0 1 727.9,412.4" fill="none" stroke="#444" stroke-width="1"/>
<path d="M743.9,429 A16.6,16.6 0 0 0 760.5,412.4" fill="none" stroke="#444" stroke-width="1"/>
<line x1="787.9" y1="412.4" x2="787.9" y2="424" stroke="#555" stroke-width="1"/>
<path d="M787.9,424 A11,11 0 0 0 798,416.4" fill="none" stroke="#444" stroke-width="1"/>
<rect x="786.9" y="411.4" width="2" height="2" fill="#000"/>
<line x1="808" y1="412.4" x2="808" y2="424" stroke="#555" stroke-width="1"/>
<path d="M808,424 A11,11 0 0 1 798,416.4" fill="none" stroke="#444" stroke-width="1"/>
<rect x="807" y="411.4" width="2" height="2" fill="#000"/>
<line x1="908.1" y1="412.4" x2="908.1" y2="425" stroke="#555" stroke-width="1"/>
<path d="M908.1,425 A12,12 0 0 0 919,416.8" fill="none" stroke="#444" stroke-width="1"/>
<rect x="907.1" y="411.4" width="2" height="2" fill="#000"/>
<line x1="930" y1="412.4" x2="930" y2="425" stroke="#555" stroke-width="1"/>
<path d="M930,425 A12,12 0 0 1 919,416.8" fill="none" stroke="#444" stroke-width="1"/>
<rect x="929" y="411.4" width="2" height="2" fill="#000"/>
<rect x="223.4" y="327.9" width="25" height="45" fill="none" stroke="#444" stroke-width="1.2"/>
<rect x="227" y="330.3" width="13" height="18" fill="none" stroke="#444" stroke-width="1"/>
<line x1="227" y1="330.3" x2="240" y2="348.3" stroke="#555" stroke-width="0.8"/>
<line x1="240" y1="330.3" x2="227" y2="348.3" stroke="#555" stroke-width="0.8"/>
<rect x="241.3" y="334.3" width="2.2" height="12" fill="#777"/>
<rect x="227" y="351.5" width="13" height="18" fill="none" stroke="#444" stroke-width="1"/>
<line x1="227" y1="351.5" x2="240" y2="369.5" stroke="#555" stroke-width="0.8"/>
<line x1="240" y1="351.5" x2="227" y2="369.5" stroke="#555" stroke-width="0.8"/>
<rect x="241.3" y="355.5" width="2.2" height="12" fill="#777"/>
<line x1="223.4" y1="350" x2="248" y2="350" stroke="#666" stroke-width="1.6"/>
<line x1="247.9" y1="321.7" x2="247.9" y2="375.7" stroke="#444" stroke-width="1.6"/>
<line x1="217.6" y1="373.3" x2="287" y2="373.3" stroke="#444" stroke-width="1"/>
<line x1="217.6" y1="375.9" x2="287" y2="375.9" stroke="#444" stroke-width="1"/>
<line x1="250" y1="328" x2="268" y2="328" stroke="#777" stroke-width="1"/>
<line x1="250" y1="330.3" x2="268" y2="330.3" stroke="#777" stroke-width="1"/>
<line x1="250" y1="332.6" x2="268" y2="332.6" stroke="#777" stroke-width="1"/>
<line x1="250" y1="334.9" x2="268" y2="334.9" stroke="#777" stroke-width="1"/>
<line x1="250" y1="337.2" x2="268" y2="337.2" stroke="#777" stroke-width="1"/>
<line x1="250" y1="339.5" x2="268" y2="339.5" stroke="#777" stroke-width="1"/>
<line x1="250" y1="341.8" x2="268" y2="341.8" stroke="#777" stroke-width="1"/>
<line x1="250" y1="344.1" x2="268" y2="344.1" stroke="#777" stroke-width="1"/>
<line x1="268" y1="328" x2="268" y2="345" stroke="#777" stroke-width="1"/>
<line x1="258" y1="323" x2="258" y2="345" stroke="#555" stroke-width="1"/>
<line x1="248.5" y1="306" x2="239.7" y2="306" stroke="#555" stroke-width="1"/>
<path d="M239.7,306 A8.4,8.4 0 0 0 245.2,314" fill="none" stroke="#444" stroke-width="1"/>
<rect x="247.5" y="305" width="2" height="2" fill="#000"/>
<line x1="248.5" y1="322" x2="239.7" y2="322" stroke="#555" stroke-width="1"/>
<path d="M239.7,322 A8.4,8.4 0 0 1 245.2,314" fill="none" stroke="#444" stroke-width="1"/>
<rect x="247.5" y="321" width="2" height="2" fill="#000"/>
<line x1="381.9" y1="304" x2="381.9" y2="335.5" stroke="#333" stroke-width="1"/>
<line x1="373.5" y1="335.5" x2="389.7" y2="335.5" stroke="#333" stroke-width="1.4"/>
<line x1="399.7" y1="335.5" x2="444" y2="335.5" stroke="#333" stroke-width="1.4"/>
<line x1="402.4" y1="304" x2="402.4" y2="335.5" stroke="#333" stroke-width="1"/>
<line x1="404.4" y1="304" x2="404.4" y2="335.5" stroke="#333" stroke-width="1"/>
<line x1="425.8" y1="304" x2="425.8" y2="335.5" stroke="#333" stroke-width="1"/>
<line x1="433.9" y1="304" x2="433.9" y2="335.5" stroke="#333" stroke-width="1"/>
<circle cx="377.7" cy="311" r="2.6" fill="#888" stroke="#333" stroke-width="0.8"/>
<circle cx="429.8" cy="311" r="2.4" fill="#888" stroke="#333" stroke-width="0.8"/>
<circle cx="377.7" cy="318" r="2.6" fill="#888" stroke="#333" stroke-width="0.8"/>
<circle cx="429.8" cy="318" r="2.4" fill="#888" stroke="#333" stroke-width="0.8"/>
<circle cx="377.7" cy="326" r="2.6" fill="#888" stroke="#333" stroke-width="0.8"/>
<circle cx="429.8" cy="326" r="2.4" fill="#888" stroke="#333" stroke-width="0.8"/>
<rect x="374" y="336" width="7" height="8.5" fill="#222"/>
<circle cx="377.5" cy="340.2" r="2" fill="#888"/>
<rect x="408" y="324" width="6" height="8" fill="none" stroke="#333" stroke-width="1"/>
<rect x="419" y="324" width="4" height="6" fill="#333"/>
<line x1="399.7" y1="335.5" x2="399.7" y2="326" stroke="#111" stroke-width="1.3"/>
<path d="M399.7,326 A9.5,9.5 0 0 0 390.2,335.5" fill="none" stroke="#444" stroke-width="1"/>
<line x1="453.6" y1="335.5" x2="453.6" y2="326.5" stroke="#111" stroke-width="1.3"/>
<path d="M453.6,326.5 A9,9 0 0 0 444.6,335.5" fill="none" stroke="#444" stroke-width="1"/>
<line x1="453.6" y1="335.5" x2="458" y2="335.5" stroke="#333" stroke-width="1.4"/>
<path d="M374,345.5 L387,345.5 L389.5,349.5 L387,353.5 L374,353.5" fill="#fff" stroke="#111" stroke-width="1.2"/>
<rect x="377" y="347.8" width="5" height="3.4" rx="1.2" fill="#999" stroke="#111" stroke-width="1"/>
<path d="M374,353.5 L387,353.5 L389.5,357.5 L387,361.5 L374,361.5" fill="#fff" stroke="#111" stroke-width="1.2"/>
<rect x="377" y="355.8" width="5" height="3.4" rx="1.2" fill="#999" stroke="#111" stroke-width="1"/>
<path d="M374,361.5 L387,361.5 L389.5,365.5 L387,369.5 L374,369.5" fill="#fff" stroke="#111" stroke-width="1.2"/>
<rect x="377" y="363.8" width="5" height="3.4" rx="1.2" fill="#999" stroke="#111" stroke-width="1"/>
<path d="M374,369.5 L387,369.5 L389.5,373.5 L387,377.5 L374,377.5" fill="#fff" stroke="#111" stroke-width="1.2"/>
<rect x="377" y="371.8" width="5" height="3.4" rx="1.2" fill="#999" stroke="#111" stroke-width="1"/>
<path d="M374,377.5 L387,377.5 L389.5,381.5 L387,385.5 L374,385.5" fill="#fff" stroke="#111" stroke-width="1.2"/>
<rect x="377" y="379.8" width="5" height="3.4" rx="1.2" fill="#999" stroke="#111" stroke-width="1"/>
<line x1="423.3" y1="335.5" x2="423.3" y2="387" stroke="#333" stroke-width="1.4"/>
<path d="M422.3,341 L410,341 L407.8,345.5 L410,350 L422.3,350" fill="#fff" stroke="#111" stroke-width="1.2"/>
<rect x="412.5" y="343.8" width="6" height="3.6" rx="1.3" fill="#999" stroke="#111" stroke-width="1"/>
<path d="M424.3,341 L436.5,341 L439,345.5 L436.5,350 L424.3,350" fill="#fff" stroke="#111" stroke-width="1.2"/>
<rect x="427.5" y="343.8" width="6" height="3.6" rx="1.3" fill="#999" stroke="#111" stroke-width="1"/>
<path d="M422.3,350 L410,350 L407.8,354.5 L410,359 L422.3,359" fill="#fff" stroke="#111" stroke-width="1.2"/>
<rect x="412.5" y="352.8" width="6" height="3.6" rx="1.3" fill="#999" stroke="#111" stroke-width="1"/>
<path d="M424.3,350 L436.5,350 L439,354.5 L436.5,359 L424.3,359" fill="#fff" stroke="#111" stroke-width="1.2"/>
<rect x="427.5" y="352.8" width="6" height="3.6" rx="1.3" fill="#999" stroke="#111" stroke-width="1"/>
<path d="M422.3,359 L410,359 L407.8,363.5 L410,368 L422.3,368" fill="#fff" stroke="#111" stroke-width="1.2"/>
<rect x="412.5" y="361.8" width="6" height="3.6" rx="1.3" fill="#999" stroke="#111" stroke-width="1"/>
<path d="M424.3,359 L436.5,359 L439,363.5 L436.5,368 L424.3,368" fill="#fff" stroke="#111" stroke-width="1.2"/>
<rect x="427.5" y="361.8" width="6" height="3.6" rx="1.3" fill="#999" stroke="#111" stroke-width="1"/>
<path d="M422.3,368 L410,368 L407.8,372.5 L410,377 L422.3,377" fill="#fff" stroke="#111" stroke-width="1.2"/>
<rect x="412.5" y="370.8" width="6" height="3.6" rx="1.3" fill="#999" stroke="#111" stroke-width="1"/>
<path d="M424.3,368 L436.5,368 L439,372.5 L436.5,377 L424.3,377" fill="#fff" stroke="#111" stroke-width="1.2"/>
<rect x="427.5" y="370.8" width="6" height="3.6" rx="1.3" fill="#999" stroke="#111" stroke-width="1"/>
<path d="M422.3,377 L410,377 L407.8,381.5 L410,386 L422.3,386" fill="#fff" stroke="#111" stroke-width="1.2"/>
<rect x="412.5" y="379.8" width="6" height="3.6" rx="1.3" fill="#999" stroke="#111" stroke-width="1"/>
<path d="M424.3,377 L436.5,377 L439,381.5 L436.5,386 L424.3,386" fill="#fff" stroke="#111" stroke-width="1.2"/>
<rect x="427.5" y="379.8" width="6" height="3.6" rx="1.3" fill="#999" stroke="#111" stroke-width="1"/>
<polygon points="457.5,346 452.5,349 457.5,352" fill="#555"/>
<polygon points="457.5,353 452.5,356 457.5,359" fill="#555"/>
<polygon points="457.5,360 452.5,363 457.5,366" fill="#555"/>
<polygon points="457.5,367 452.5,370 457.5,373" fill="#555"/>
<polygon points="457.5,374 452.5,377 457.5,380" fill="#555"/>
<polygon points="457.5,381 452.5,384 457.5,387" fill="#555"/>
<text x="398" y="358.8" font-size="8" fill="#999" text-anchor="middle" dominant-baseline="central" font-weight="normal" font-family='"Liberation Sans", sans-serif'>女厕</text>
<text x="445" y="358.8" font-size="8" fill="#999" text-anchor="middle" dominant-baseline="central" font-weight="normal" font-family='"Liberation Sans", sans-serif'>男厕</text>
<rect x="79.5" y="89.5" width="5" height="5" fill="#fff" stroke="#000" stroke-width="1"/>
<rect x="168.5" y="89.5" width="5" height="5" fill="#fff" stroke="#000" stroke-width="1"/>
<rect x="204.5" y="89.5" width="5" height="5" fill="#fff" stroke="#000" stroke-width="1"/>
<rect x="287.5" y="89.5" width="5" height="5" fill="#fff" stroke="#000" stroke-width="1"/>
<rect x="783.5" y="89.5" width="5" height="5" fill="#fff" stroke="#000" stroke-width="1"/>
<rect x="866.5" y="89.5" width="5" height="5" fill="#fff" stroke="#000" stroke-width="1"/>
<rect x="948.5" y="89.5" width="5" height="5" fill="#fff" stroke="#000" stroke-width="1"/>
<rect x="79.5" y="147.5" width="5" height="5" fill="#fff" stroke="#000" stroke-width="1"/>
<rect x="168.5" y="147.5" width="5" height="5" fill="#fff" stroke="#000" stroke-width="1"/>
<rect x="204.5" y="147.5" width="5" height="5" fill="#fff" stroke="#000" stroke-width="1"/>
<rect x="287.5" y="147.5" width="5" height="5" fill="#fff" stroke="#000" stroke-width="1"/>
<rect x="783.5" y="147.5" width="5" height="5" fill="#fff" stroke="#000" stroke-width="1"/>
<rect x="866.5" y="147.5" width="5" height="5" fill="#fff" stroke="#000" stroke-width="1"/>
<rect x="949.5" y="147.5" width="5" height="5" fill="#fff" stroke="#000" stroke-width="1"/>
<rect x="79.5" y="221.5" width="5" height="5" fill="#fff" stroke="#000" stroke-width="1"/>
<rect x="168.5" y="221.5" width="5" height="5" fill="#fff" stroke="#000" stroke-width="1"/>
<rect x="204.5" y="221.5" width="5" height="5" fill="#fff" stroke="#000" stroke-width="1"/>
<rect x="287.5" y="221.5" width="5" height="5" fill="#fff" stroke="#000" stroke-width="1"/>
<rect x="783.5" y="222.5" width="5" height="5" fill="#fff" stroke="#000" stroke-width="1"/>
<rect x="866.5" y="222.5" width="5" height="5" fill="#fff" stroke="#000" stroke-width="1"/>
<rect x="949.5" y="221.5" width="5" height="5" fill="#fff" stroke="#000" stroke-width="1"/>
<rect x="79.5" y="304.5" width="5" height="5" fill="#fff" stroke="#000" stroke-width="1"/>
<rect x="168.5" y="304.5" width="5" height="5" fill="#fff" stroke="#000" stroke-width="1"/>
<rect x="204.5" y="304.5" width="5" height="5" fill="#fff" stroke="#000" stroke-width="1"/>
<rect x="287.5" y="304.5" width="5" height="5" fill="#fff" stroke="#000" stroke-width="1"/>
<rect x="368.5" y="304.5" width="5" height="5" fill="#fff" stroke="#000" stroke-width="1"/>
<rect x="455.5" y="300.5" width="5" height="5" fill="#fff" stroke="#000" stroke-width="1"/>
<rect x="535.5" y="304.5" width="5" height="5" fill="#fff" stroke="#000" stroke-width="1"/>
<rect x="618.5" y="304.5" width="5" height="5" fill="#fff" stroke="#000" stroke-width="1"/>
<rect x="700.5" y="304.5" width="5" height="5" fill="#fff" stroke="#000" stroke-width="1"/>
<rect x="783.5" y="304.5" width="5" height="5" fill="#fff" stroke="#000" stroke-width="1"/>
<rect x="865.5" y="304.5" width="5" height="5" fill="#fff" stroke="#000" stroke-width="1"/>
<rect x="949.5" y="304.5" width="5" height="5" fill="#fff" stroke="#000" stroke-width="1"/>
<rect x="79.5" y="381.5" width="5" height="5" fill="#fff" stroke="#000" stroke-width="1"/>
<rect x="168.5" y="381.5" width="5" height="5" fill="#fff" stroke="#000" stroke-width="1"/>
<rect x="204.5" y="381.5" width="5" height="5" fill="#fff" stroke="#000" stroke-width="1"/>
<rect x="212.5" y="371.5" width="5" height="5" fill="#fff" stroke="#000" stroke-width="1"/>
<rect x="618.5" y="381.5" width="5" height="5" fill="#fff" stroke="#000" stroke-width="1"/>
<rect x="700.5" y="381.5" width="5" height="5" fill="#fff" stroke="#000" stroke-width="1"/>
<rect x="782.5" y="381.5" width="5" height="5" fill="#fff" stroke="#000" stroke-width="1"/>
<rect x="865.5" y="381.5" width="5" height="5" fill="#fff" stroke="#000" stroke-width="1"/>
<rect x="949.5" y="381.5" width="5" height="5" fill="#fff" stroke="#000" stroke-width="1"/>
<rect x="79.5" y="412.5" width="5" height="5" fill="#fff" stroke="#000" stroke-width="1"/>
<rect x="168.5" y="412.5" width="5" height="5" fill="#fff" stroke="#000" stroke-width="1"/>
<rect x="204.5" y="412.5" width="5" height="5" fill="#fff" stroke="#000" stroke-width="1"/>
<rect x="286.5" y="412.5" width="5" height="5" fill="#fff" stroke="#000" stroke-width="1"/>
<rect x="369.5" y="412.5" width="5" height="5" fill="#fff" stroke="#000" stroke-width="1"/>
<rect x="451.5" y="412.5" width="5" height="5" fill="#fff" stroke="#000" stroke-width="1"/>
<rect x="535.5" y="412.5" width="5" height="5" fill="#fff" stroke="#000" stroke-width="1"/>
<rect x="700.5" y="412.5" width="5" height="5" fill="#fff" stroke="#000" stroke-width="1"/>
<rect x="782.5" y="412.5" width="5" height="5" fill="#fff" stroke="#000" stroke-width="1"/>
<rect x="866.5" y="413.5" width="5" height="5" fill="#fff" stroke="#000" stroke-width="1"/>
<rect x="933.5" y="413.5" width="5" height="5" fill="#fff" stroke="#000" stroke-width="1"/>
<rect x="79.5" y="489.5" width="5" height="5" fill="#fff" stroke="#000" stroke-width="1"/>
<rect x="168.5" y="489.5" width="5" height="5" fill="#fff" stroke="#000" stroke-width="1"/>
<rect x="204.5" y="489.5" width="5" height="5" fill="#fff" stroke="#000" stroke-width="1"/>
<rect x="286.5" y="489.5" width="5" height="5" fill="#fff" stroke="#000" stroke-width="1"/>
<rect x="369.5" y="489.5" width="5" height="5" fill="#fff" stroke="#000" stroke-width="1"/>
<rect x="451.5" y="489.5" width="5" height="5" fill="#fff" stroke="#000" stroke-width="1"/>
<rect x="535.5" y="489.5" width="5" height="5" fill="#fff" stroke="#000" stroke-width="1"/>
<rect x="618.5" y="489.5" width="5" height="5" fill="#fff" stroke="#000" stroke-width="1"/>
<rect x="700.5" y="489.5" width="5" height="5" fill="#fff" stroke="#000" stroke-width="1"/>
<rect x="782.5" y="489.5" width="5" height="5" fill="#fff" stroke="#000" stroke-width="1"/>
<rect x="866.5" y="489.5" width="5" height="5" fill="#fff" stroke="#000" stroke-width="1"/>
<rect x="933.5" y="489.5" width="5" height="5" fill="#fff" stroke="#000" stroke-width="1"/>
<text x="126" y="144" font-size="15" fill="#000" text-anchor="middle" dominant-baseline="central" font-weight="normal" font-family='"Liberation Sans", sans-serif'>计算机</text>
<text x="126" y="162.3" font-size="15" fill="#000" text-anchor="middle" dominant-baseline="central" font-weight="normal" font-family='"Liberation Sans", sans-serif'>模拟</text>
<text x="126" y="179.4" font-size="15" fill="#000" text-anchor="middle" dominant-baseline="central" font-weight="normal" font-family='"Liberation Sans", sans-serif'>实验室</text>
<text x="121" y="238" font-size="15" fill="#000" text-anchor="middle" dominant-baseline="central" font-weight="normal" font-family='"Liberation Sans", sans-serif'>实验中心</text>
<text x="120" y="254.4" font-size="15" fill="#000" text-anchor="middle" dominant-baseline="central" font-weight="normal" font-family='"Liberation Sans", sans-serif'>主任</text>
<text x="120" y="281" font-size="15" fill="#000" text-anchor="middle" dominant-baseline="central" font-weight="normal" font-family='"Liberation Sans", sans-serif'>采购室</text>
<text x="137.2" y="360" font-size="15" fill="#000" text-anchor="middle" dominant-baseline="central" font-weight="normal" font-family='"Liberation Sans", sans-serif'>门厅上空</text>
<text x="244.4" y="154.2" font-size="15" fill="#000" text-anchor="middle" dominant-baseline="central" font-weight="normal" font-family='"Liberation Sans", sans-serif'>仪器采购</text>
<text x="244.4" y="172.4" font-size="15" fill="#000" text-anchor="middle" dominant-baseline="central" font-weight="normal" font-family='"Liberation Sans", sans-serif'>储藏室</text>
<text x="245.4" y="223.8" font-size="15" fill="#000" text-anchor="middle" dominant-baseline="central" font-weight="normal" font-family='"Liberation Sans", sans-serif'>休息室</text>
<text x="395.5" y="154.2" font-size="15" fill="#000" text-anchor="middle" dominant-baseline="central" font-weight="normal" font-family='"Liberation Sans", sans-serif'>会议室</text>
<text x="395.6" y="171.4" font-size="12" fill="#000" text-anchor="middle" dominant-baseline="central" font-weight="normal" font-family='"Liberation Sans", sans-serif' letter-spacing="0.9">18.8x21=395m²</text>
<text x="616.7" y="149.2" font-size="15" fill="#000" text-anchor="middle" dominant-baseline="central" font-weight="normal" font-family='"Liberation Sans", sans-serif'>报告厅</text>
<text x="616.7" y="166.3" font-size="12" fill="#000" text-anchor="middle" dominant-baseline="central" font-weight="normal" font-family='"Liberation Sans", sans-serif' letter-spacing="0.9">18.8x14=263m²</text>
<text x="624.8" y="245" font-size="15" fill="#000" text-anchor="middle" dominant-baseline="central" font-weight="normal" font-family='"Liberation Sans", sans-serif'>讲台</text>
<text x="623.8" y="82.7" font-size="15" fill="#000" text-anchor="middle" dominant-baseline="central" font-weight="normal" font-family='"Liberation Sans", sans-serif'>控制室</text>
<text x="793.5" y="119.3" font-size="15" fill="#b80010" text-anchor="middle" dominant-baseline="central" font-weight="normal" font-family='"Liberation Sans", sans-serif'>研究生教室</text>
<text x="792.5" y="193" font-size="15" fill="#b80010" text-anchor="middle" dominant-baseline="central" font-weight="normal" font-family='"Liberation Sans", sans-serif'>学生活动室</text>
<text x="915.6" y="144.6" font-size="15" fill="#b80010" text-anchor="middle" dominant-baseline="central" font-weight="normal" font-family='"Liberation Sans", sans-serif'>储粮</text>
<text x="915.6" y="162.7" font-size="15" fill="#b80010" text-anchor="middle" dominant-baseline="central" font-weight="normal" font-family='"Liberation Sans", sans-serif'>害虫</text>
<text x="915.6" y="180.3" font-size="15" fill="#b80010" text-anchor="middle" dominant-baseline="central" font-weight="normal" font-family='"Liberation Sans", sans-serif'>防治</text>
<text x="915.6" y="198" font-size="15" fill="#b80010" text-anchor="middle" dominant-baseline="central" font-weight="normal" font-family='"Liberation Sans", sans-serif'>实验</text>
<text x="915.6" y="215.2" font-size="15" fill="#b80010" text-anchor="middle" dominant-baseline="central" font-weight="normal" font-family='"Liberation Sans", sans-serif'>室</text>
<text x="789" y="242.8" font-size="11.6" fill="#000" text-anchor="start" dominant-baseline="central" font-weight="normal" font-family='"Liberation Sans", sans-serif'>团、学工</text>
<text x="790.5" y="255.8" font-size="12" fill="#000" text-anchor="start" dominant-baseline="central" font-weight="normal" font-family='"Liberation Sans", sans-serif'>(</text>
<text x="799.5" y="255.8" font-size="12" fill="#000" text-anchor="start" dominant-baseline="central" font-weight="normal" font-family='"Liberation Sans", sans-serif'>2人</text>
<text x="820.5" y="255.8" font-size="12" fill="#000" text-anchor="start" dominant-baseline="central" font-weight="normal" font-family='"Liberation Sans", sans-serif'>)</text>
<text x="898" y="285.6" font-size="11" fill="#b80010" text-anchor="middle" dominant-baseline="central" font-weight="normal" font-family='"Liberation Sans", sans-serif'>档案室</text>
<text x="898" y="298.4" font-size="11" fill="#b80010" text-anchor="middle" dominant-baseline="central" font-weight="normal" font-family='"Liberation Sans", sans-serif'>谈话间</text>
<text x="935" y="316.8" font-size="12" fill="#000" text-anchor="middle" dominant-baseline="central" font-weight="normal" font-family='"Liberation Sans", sans-serif'>教授室</text>
<text x="939" y="367.7" font-size="12" fill="#000" text-anchor="middle" dominant-baseline="central" font-weight="normal" font-family='"Liberation Sans", sans-serif'>教授室</text>
<text x="307.5" y="330.2" font-size="15" fill="#000" text-anchor="middle" dominant-baseline="central" font-weight="normal" font-family='"Liberation Sans", sans-serif'>研究</text>
<text x="307.5" y="348.3" font-size="15" fill="#000" text-anchor="middle" dominant-baseline="central" font-weight="normal" font-family='"Liberation Sans", sans-serif'>生</text>
<text x="307.5" y="365" font-size="15" fill="#000" text-anchor="middle" dominant-baseline="central" font-weight="normal" font-family='"Liberation Sans", sans-serif'>秘书</text>
<text x="348.1" y="338.9" font-size="15" fill="#000" text-anchor="middle" dominant-baseline="central" font-weight="normal" font-family='"Liberation Sans", sans-serif'>教学</text>
<text x="348.1" y="355.6" font-size="15" fill="#000" text-anchor="middle" dominant-baseline="central" font-weight="normal" font-family='"Liberation Sans", sans-serif'>档案</text>
<text x="485.5" y="328.9" font-size="15" fill="#000" text-anchor="middle" dominant-baseline="central" font-weight="normal" font-family='"Liberation Sans", sans-serif'>储藏室</text>
<text x="488" y="375.5" font-size="15" fill="#000" text-anchor="middle" dominant-baseline="central" font-weight="normal" font-family='"Liberation Sans", sans-serif'>电</text>
<text x="600.6" y="342.9" font-size="15" fill="#000" text-anchor="middle" dominant-baseline="central" font-weight="normal" font-family='"Liberation Sans", sans-serif'>教工之家</text>
<text x="727.3" y="334.8" font-size="15" fill="#000" text-anchor="middle" dominant-baseline="central" font-weight="normal" font-family='"Liberation Sans", sans-serif'>机械零件</text>
<text x="727.3" y="352.5" font-size="15" fill="#000" text-anchor="middle" dominant-baseline="central" font-weight="normal" font-family='"Liberation Sans", sans-serif'>实验室</text>
<text x="227.4" y="436" font-size="15" fill="#000" text-anchor="middle" dominant-baseline="central" font-weight="normal" font-family='"Liberation Sans", sans-serif'>书</text>
<text x="227.4" y="454.7" font-size="15" fill="#000" text-anchor="middle" dominant-baseline="central" font-weight="normal" font-family='"Liberation Sans", sans-serif'>记</text>
<text x="227.4" y="472.7" font-size="15" fill="#000" text-anchor="middle" dominant-baseline="central" font-weight="normal" font-family='"Liberation Sans", sans-serif'>室</text>
<text x="278.5" y="436" font-size="15" fill="#000" text-anchor="middle" dominant-baseline="central" font-weight="normal" font-family='"Liberation Sans", sans-serif'>院</text>
<text x="278.5" y="454.7" font-size="15" fill="#000" text-anchor="middle" dominant-baseline="central" font-weight="normal" font-family='"Liberation Sans", sans-serif'>长</text>
<text x="278.5" y="472.7" font-size="15" fill="#000" text-anchor="middle" dominant-baseline="central" font-weight="normal" font-family='"Liberation Sans", sans-serif'>室</text>
<text x="313.1" y="435.3" font-size="15" fill="#000" text-anchor="middle" dominant-baseline="central" font-weight="normal" font-family='"Liberation Sans", sans-serif'>院</text>
<text x="313.1" y="454" font-size="15" fill="#000" text-anchor="middle" dominant-baseline="central" font-weight="normal" font-family='"Liberation Sans", sans-serif'>长</text>
<text x="313.1" y="471.3" font-size="15" fill="#000" text-anchor="middle" dominant-baseline="central" font-weight="normal" font-family='"Liberation Sans", sans-serif'>室</text>
<text x="354.6" y="435.3" font-size="15" fill="#000" text-anchor="middle" dominant-baseline="central" font-weight="normal" font-family='"Liberation Sans", sans-serif'>院</text>
<text x="354.6" y="454" font-size="15" fill="#000" text-anchor="middle" dominant-baseline="central" font-weight="normal" font-family='"Liberation Sans", sans-serif'>长</text>
<text x="354.6" y="471.3" font-size="15" fill="#000" text-anchor="middle" dominant-baseline="central" font-weight="normal" font-family='"Liberation Sans", sans-serif'>室</text>
<text x="396.3" y="435.3" font-size="15" fill="#000" text-anchor="middle" dominant-baseline="central" font-weight="normal" font-family='"Liberation Sans", sans-serif'>院</text>
<text x="396.3" y="454" font-size="15" fill="#000" text-anchor="middle" dominant-baseline="central" font-weight="normal" font-family='"Liberation Sans", sans-serif'>长</text>
<text x="396.3" y="471.3" font-size="15" fill="#000" text-anchor="middle" dominant-baseline="central" font-weight="normal" font-family='"Liberation Sans", sans-serif'>室</text>
<text x="434.5" y="434.6" font-size="12" fill="#000" text-anchor="middle" dominant-baseline="central" font-weight="normal" font-family='"Liberation Sans", sans-serif'>院</text>
<text x="434.5" y="448.5" font-size="12" fill="#000" text-anchor="middle" dominant-baseline="central" font-weight="normal" font-family='"Liberation Sans", sans-serif'>办</text>
<text x="434.5" y="462.4" font-size="12" fill="#000" text-anchor="middle" dominant-baseline="central" font-weight="normal" font-family='"Liberation Sans", sans-serif'>公</text>
<text x="434.5" y="476.5" font-size="12" fill="#000" text-anchor="middle" dominant-baseline="central" font-weight="normal" font-family='"Liberation Sans", sans-serif'>室</text>
<text x="479.5" y="428" font-size="15" fill="#000" text-anchor="middle" dominant-baseline="central" font-weight="normal" font-family='"Liberation Sans", sans-serif'>教</text>
<text x="479.5" y="446" font-size="15" fill="#000" text-anchor="middle" dominant-baseline="central" font-weight="normal" font-family='"Liberation Sans", sans-serif'>学</text>
<text x="479.5" y="463.4" font-size="15" fill="#000" text-anchor="middle" dominant-baseline="central" font-weight="normal" font-family='"Liberation Sans", sans-serif'>秘</text>
<text x="479.5" y="480.7" font-size="15" fill="#000" text-anchor="middle" dominant-baseline="central" font-weight="normal" font-family='"Liberation Sans", sans-serif'>书</text>
<text x="518.4" y="434.6" font-size="12" fill="#000" text-anchor="middle" dominant-baseline="central" font-weight="normal" font-family='"Liberation Sans", sans-serif'>辅</text>
<text x="518.4" y="449" font-size="12" fill="#000" text-anchor="middle" dominant-baseline="central" font-weight="normal" font-family='"Liberation Sans", sans-serif'>导</text>
<text x="518.4" y="462.7" font-size="12" fill="#000" text-anchor="middle" dominant-baseline="central" font-weight="normal" font-family='"Liberation Sans", sans-serif'>员</text>
<text x="559.5" y="434.6" font-size="12" fill="#000" text-anchor="middle" dominant-baseline="central" font-weight="normal" font-family='"Liberation Sans", sans-serif'>辅</text>
<text x="559.5" y="449" font-size="12" fill="#000" text-anchor="middle" dominant-baseline="central" font-weight="normal" font-family='"Liberation Sans", sans-serif'>导</text>
<text x="559.5" y="462.7" font-size="12" fill="#000" text-anchor="middle" dominant-baseline="central" font-weight="normal" font-family='"Liberation Sans", sans-serif'>员</text>
<text x="595.2" y="436" font-size="15" fill="#000" text-anchor="middle" dominant-baseline="central" font-weight="normal" font-family='"Liberation Sans", sans-serif'>外</text>
<text x="595.2" y="454.7" font-size="15" fill="#000" text-anchor="middle" dominant-baseline="central" font-weight="normal" font-family='"Liberation Sans", sans-serif'>教</text>
<text x="595.2" y="472.7" font-size="15" fill="#000" text-anchor="middle" dominant-baseline="central" font-weight="normal" font-family='"Liberation Sans", sans-serif'>室</text>
<text x="644.9" y="436" font-size="15" fill="#000" text-anchor="middle" dominant-baseline="central" font-weight="normal" font-family='"Liberation Sans", sans-serif'>工</text>
<text x="644.9" y="454.7" font-size="15" fill="#000" text-anchor="middle" dominant-baseline="central" font-weight="normal" font-family='"Liberation Sans", sans-serif'>作</text>
<text x="644.9" y="472.7" font-size="15" fill="#000" text-anchor="middle" dominant-baseline="central" font-weight="normal" font-family='"Liberation Sans", sans-serif'>室</text>
<text x="678" y="436" font-size="15" fill="#000" text-anchor="middle" dominant-baseline="central" font-weight="normal" font-family='"Liberation Sans", sans-serif'>工</text>
<text x="678" y="454.7" font-size="15" fill="#000" text-anchor="middle" dominant-baseline="central" font-weight="normal" font-family='"Liberation Sans", sans-serif'>作</text>
<text x="678" y="472.7" font-size="15" fill="#000" text-anchor="middle" dominant-baseline="central" font-weight="normal" font-family='"Liberation Sans", sans-serif'>室</text>
<text x="720.2" y="435.3" font-size="15" fill="#000" text-anchor="middle" dominant-baseline="central" font-weight="normal" font-family='"Liberation Sans", sans-serif'>教</text>
<text x="720.2" y="454.7" font-size="15" fill="#000" text-anchor="middle" dominant-baseline="central" font-weight="normal" font-family='"Liberation Sans", sans-serif'>授</text>
<text x="720.2" y="472.7" font-size="15" fill="#000" text-anchor="middle" dominant-baseline="central" font-weight="normal" font-family='"Liberation Sans", sans-serif'>室</text>
<text x="762" y="435.3" font-size="15" fill="#000" text-anchor="middle" dominant-baseline="central" font-weight="normal" font-family='"Liberation Sans", sans-serif'>教</text>
<text x="762" y="454.7" font-size="15" fill="#000" text-anchor="middle" dominant-baseline="central" font-weight="normal" font-family='"Liberation Sans", sans-serif'>授</text>
<text x="762" y="472.7" font-size="15" fill="#000" text-anchor="middle" dominant-baseline="central" font-weight="normal" font-family='"Liberation Sans", sans-serif'>室</text>
<text x="867.5" y="436.2" font-size="15" fill="#b80010" text-anchor="middle" dominant-baseline="central" font-weight="normal" font-family='"Liberation Sans", sans-serif'>会议室</text>
<text x="867.5" y="452.7" font-size="15" fill="#b80010" text-anchor="middle" dominant-baseline="central" font-weight="normal" font-family='"Liberation Sans", sans-serif'>资料室</text>
<text x="867" y="472.5" font-size="15" fill="#b80010" text-anchor="middle" dominant-baseline="central" font-weight="normal" font-family='"Liberation Sans", sans-serif'>教师讨论室</text>
<text x="162.7" y="541.8" font-size="12" fill="#000" text-anchor="start" dominant-baseline="central" font-weight="bold" font-family='"Liberation Sans", sans-serif'>说明1：</text>
<text x="162.7" y="563.4" font-size="12" fill="#000" text-anchor="start" dominant-baseline="central" font-weight="bold" font-family='"Liberation Sans", sans-serif'>实验中心主任：1人；</text>
<text x="162.7" y="584" font-size="12" fill="#000" text-anchor="start" dominant-baseline="central" font-weight="bold" font-family='"Liberation Sans", sans-serif'>书记、院长室：每室1人；</text>
<text x="162.7" y="605.6" font-size="12" fill="#000" text-anchor="start" dominant-baseline="central" font-weight="bold" font-family='"Liberation Sans", sans-serif'>院办公室：每室2人</text>
<text x="162.7" y="627.2" font-size="12" fill="#000" text-anchor="start" dominant-baseline="central" font-weight="bold" font-family='"Liberation Sans", sans-serif'>采购室：每室2人。</text>
<text x="705.2" y="541.8" font-size="12" fill="#000" text-anchor="start" dominant-baseline="central" font-weight="bold" font-family='"Liberation Sans", sans-serif'>说明2：</text>
<text x="705.2" y="564.5" font-size="12" fill="#000" text-anchor="start" dominant-baseline="central" font-weight="bold" font-family='"Liberation Sans", sans-serif'>工作室：每室2人；</text>
<text x="705.2" y="577.5" font-size="12" fill="#000" text-anchor="start" dominant-baseline="central" font-weight="bold" font-family='"Liberation Sans", sans-serif'>教授室：每室1人；</text>
<text x="705.2" y="599.1" font-size="12" fill="#000" text-anchor="start" dominant-baseline="central" font-weight="bold" font-family='"Liberation Sans", sans-serif'>外教室：每室2人；</text>
<text x="705.2" y="612.8" font-size="12" fill="#000" text-anchor="start" dominant-baseline="central" font-weight="bold" font-family='"Liberation Sans", sans-serif'>辅导员：每室2人；</text>
<text x="705.2" y="634.8" font-size="12" fill="#000" text-anchor="start" dominant-baseline="central" font-weight="bold" font-family='"Liberation Sans", sans-serif'>秘书室：每室2人；</text>
<text x="705.2" y="656.1" font-size="12" fill="#000" text-anchor="start" dominant-baseline="central" font-weight="bold" font-family='"Liberation Sans", sans-serif'>团、学工：每室2</text>
<text x="705.2" y="672" font-size="12" fill="#000" text-anchor="start" dominant-baseline="central" font-weight="bold" font-family='"Liberation Sans", sans-serif'>人。</text>
<text x="474.5" y="628.8" font-size="26" fill="#000" text-anchor="middle" dominant-baseline="central" font-weight="normal" font-family='"Liberation Serif", serif'>二层平面</text>
<line x1="143.2" y1="255" x2="209.1" y2="562.4" stroke="#000" stroke-width="1.1"/>
<polygon points="143.2,255 149.1,264 141.5,265.6" fill="#000"/>
<polygon points="209.1,562.4 203.2,553.4 210.8,551.8" fill="#000"/>
<line x1="91.8" y1="321.6" x2="158.6" y2="628.8" stroke="#000" stroke-width="1.1"/>
<polygon points="91.8,321.6 97.7,330.5 90.1,332.2" fill="#000"/>
<polygon points="158.6,628.8 152.7,619.9 160.3,618.2" fill="#000"/>
<line x1="343" y1="497.3" x2="285.8" y2="578.6" stroke="#000" stroke-width="1.1"/>
<polygon points="343,497.3 340.4,507.7 334.1,503.2" fill="#000"/>
<polygon points="285.8,578.6 288.4,568.2 294.7,572.7" fill="#000"/>
<line x1="433.7" y1="497.3" x2="268.5" y2="603.4" stroke="#000" stroke-width="1.1"/>
<polygon points="433.7,497.3 427.4,506 423.2,499.4" fill="#000"/>
<polygon points="268.5,603.4 274.8,594.7 279,601.3" fill="#000"/>
<line x1="479.2" y1="497.3" x2="701.7" y2="627.5" stroke="#000" stroke-width="1.1"/>
<polygon points="479.2,497.3 489.8,499 485.9,505.7" fill="#000"/>
<polygon points="701.7,627.5 691.1,625.8 695,619.1" fill="#000"/>
<line x1="545" y1="497.3" x2="693.6" y2="612.6" stroke="#000" stroke-width="1.1"/>
<polygon points="545,497.3 555.3,500.3 550.5,506.5" fill="#000"/>
<polygon points="693.6,612.6 683.3,609.6 688.1,603.4" fill="#000"/>
<line x1="595.6" y1="497.3" x2="701.7" y2="595.3" stroke="#000" stroke-width="1.1"/>
<polygon points="595.6,497.3 605.6,501.2 600.3,507" fill="#000"/>
<polygon points="701.7,595.3 691.7,591.4 697,585.6" fill="#000"/>
<line x1="654.4" y1="497.3" x2="701.7" y2="560.7" stroke="#000" stroke-width="1.1"/>
<polygon points="654.4,497.3 663.5,503 657.3,507.6" fill="#000"/>
<polygon points="701.7,560.7 692.6,555 698.8,550.4" fill="#000"/>
<line x1="927.1" y1="380.9" x2="804.7" y2="575.3" stroke="#000" stroke-width="1.1"/>
<polygon points="927.1,380.9 925.1,391.4 918.5,387.3" fill="#000"/>
<polygon points="804.7,575.3 806.7,564.8 813.3,568.9" fill="#000"/>
<line x1="809.7" y1="272.6" x2="737" y2="645.5" stroke="#000" stroke-width="1.1"/>
<polygon points="809.7,272.6 811.6,283.2 804,281.7" fill="#000"/>
<polygon points="737,645.5 735.1,634.9 742.7,636.4" fill="#000"/>
</svg>
</body></html>
